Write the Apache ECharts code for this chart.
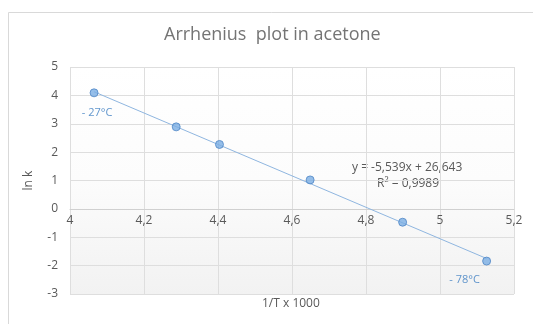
<!DOCTYPE html>
<html>
<head>
<meta charset="utf-8">
<script src="https://cdn.jsdelivr.net/npm/echarts@6/dist/echarts.min.js"></script>
<style>html,body{margin:0;padding:0;background:#fff}#c{width:533px;height:324px}</style>
</head>
<body>
<div id="c"></div>
<script>
var invT = [4.065, 4.287, 4.404, 4.649, 4.899, 5.126];
var lnK = [4.09, 2.89, 2.27, 1.02, -0.47, -1.84];
var pointLabels = ['- 27°C', '', '', '', '', '- 78°C'];
var slope = -5.539, intercept = 26.643;
var eqText = 'y = -5,539x + 26,643';
var r2Text = 'R² = 0,9989';
var xTitle = '1/T x 1000';
var yTitle = 'ln k';
var chartTitle = 'Arrhenius  plot in acetone';

var FONT = '"Open Sans", "Noto Sans", sans-serif';
var chart = echarts.init(document.getElementById('c'), null, {renderer: 'canvas'});

var pts = invT.map(function (x, i) {
  var d = {value: [x, lnK[i]]};
  if (pointLabels[i]) {
    d.label = {
      show: true, formatter: pointLabels[i], position: 'bottom',
      offset: i === 0 ? [3, 5] : [-22, 4],
      color: '#3a7cc0', fontSize: 11, fontFamily: FONT
    };
  }
  return d;
});
var xMin = Math.min.apply(null, invT), xMax = Math.max.apply(null, invT);
var trend = [[xMin, slope * xMin + intercept], [xMax, slope * xMax + intercept]];

function fmt(v) { return (+v.toFixed(1)).toString().replace('.', ','); }

var gridTop = 67, gridBottom = 30, H = 324;
var yMin = -3, yMax = 5;
// distance from plot bottom up to the y=0 line
var zeroOffset = (0 - yMin) / (yMax - yMin) * (H - gridTop - gridBottom);

chart.setOption({
  animation: false,
  backgroundColor: '#ffffff',
  graphic: [
    {type: 'rect', shape: {x: 8.5, y: 12.5, width: 540, height: 330},
     style: {fill: 'none', stroke: '#d9d9d9', lineWidth: 1}, silent: true, z: -10},
    {type: 'text', left: 164, top: 26, style: {text: chartTitle, fill: '#747474', font: '18px ' + FONT}},
    {type: 'text', left: 352, top: 162, style: {text: eqText, fill: '#595959', font: '12px ' + FONT}},
    {type: 'text', left: 377, top: 178, style: {text: r2Text, fill: '#595959', font: '12px ' + FONT}},
    {type: 'text', left: 262, top: 298, style: {text: xTitle, fill: '#595959', font: '12px ' + FONT}}
  ],
  grid: {
    left: 70, right: 19, top: gridTop, bottom: gridBottom, show: true, borderWidth: 0,
    backgroundColor: {type: 'linear', x: 0, y: 0, x2: 0, y2: 1,
      colorStops: [{offset: 0, color: '#ffffff'}, {offset: 0.5, color: '#fcfcfc'}, {offset: 1, color: '#f2f2f2'}]}
  },
  xAxis: {
    type: 'value', min: 4, max: 5.2, interval: 0.2,
    position: 'bottom', offset: -zeroOffset,
    axisLine: {show: true, onZero: false, lineStyle: {color: '#d0d0d0'}},
    axisTick: {show: false},
    axisLabel: {color: '#595959', fontSize: 12, fontFamily: FONT, margin: 6, formatter: fmt},
    splitLine: {show: true, lineStyle: {color: '#dedede'}}
  },
  yAxis: {
    type: 'value', min: yMin, max: yMax, interval: 1,
    name: yTitle, nameLocation: 'middle', nameGap: 35, nameRotate: 90,
    nameTextStyle: {color: '#595959', fontSize: 12, fontFamily: FONT},
    axisLine: {show: false, onZero: false}, axisTick: {show: false},
    axisLabel: {color: '#595959', fontSize: 12, fontFamily: FONT, margin: 12},
    splitLine: {show: true, lineStyle: {color: '#dedede'}}
  },
  series: [
    {type: 'line', data: trend, symbol: 'none', silent: true,
     lineStyle: {color: '#8fb6e0', width: 1}, z: 2},
    {type: 'scatter', data: pts, symbol: 'circle', symbolSize: 8,
     itemStyle: {color: '#7aaee3', borderColor: '#4f86c6', borderWidth: 1}, z: 3}
  ]
});
</script>
</body>
</html>
